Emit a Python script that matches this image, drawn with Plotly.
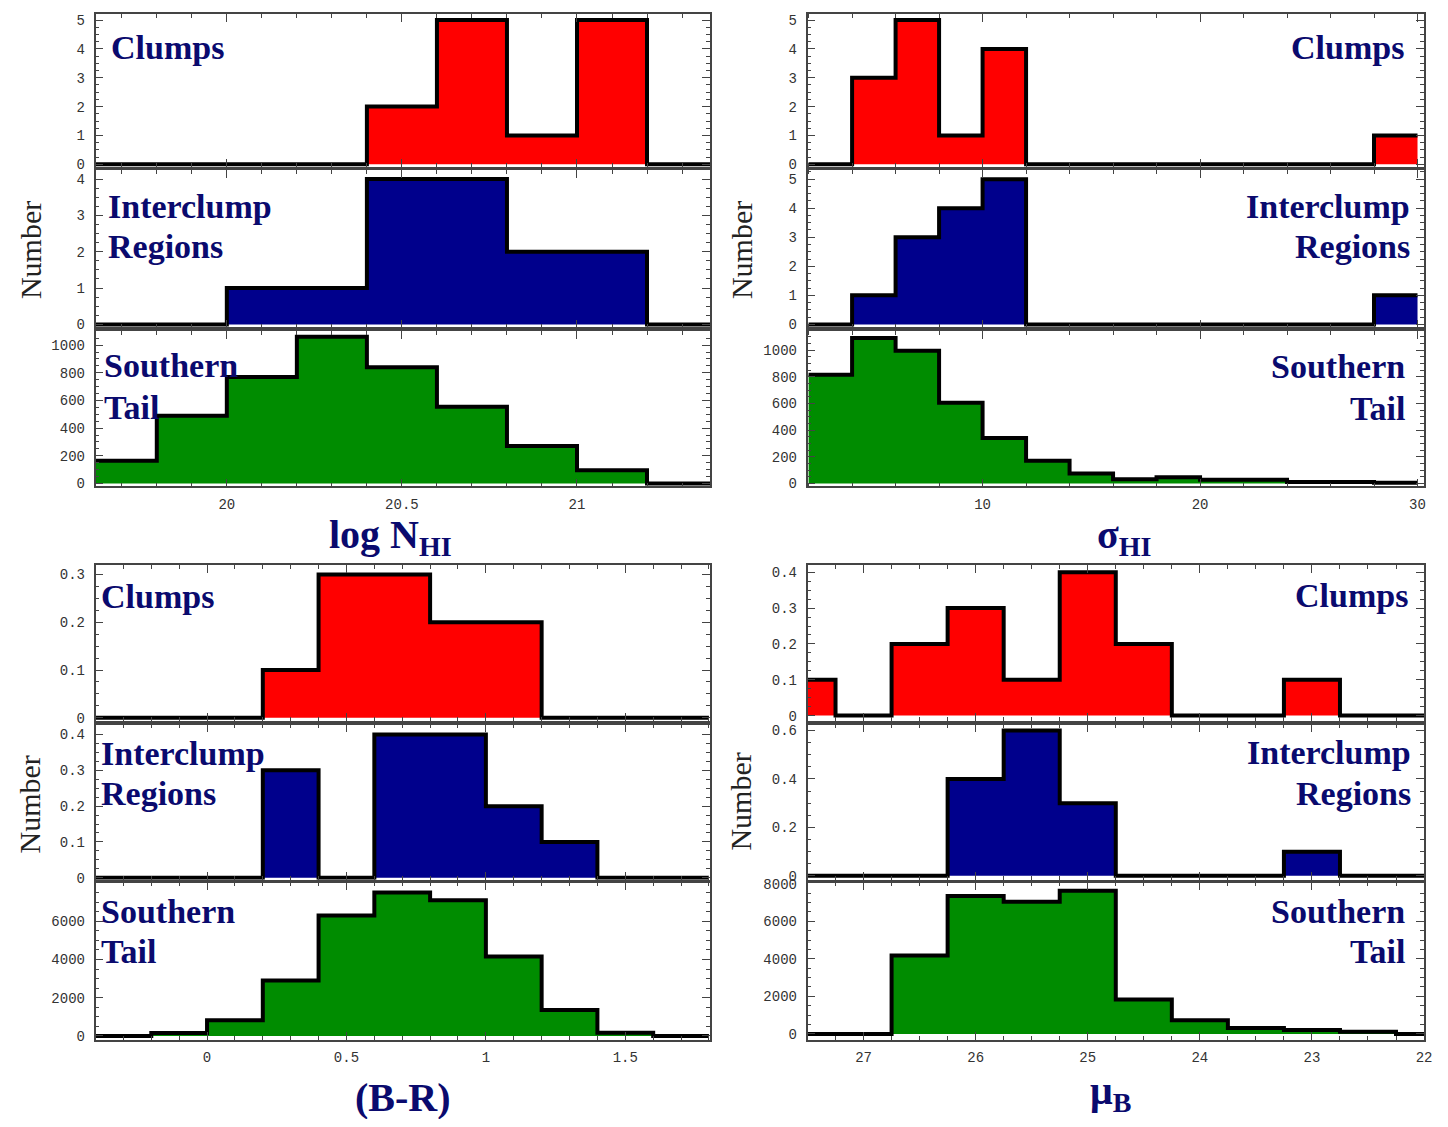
import plotly.graph_objects as go

# ---------------- data ----------------
# Panel A: log N_HI  (bin edges, counts)
A_edges = [19.6, 19.8, 20.0, 20.2, 20.4, 20.6, 20.8, 21.0, 21.2, 21.4]
A_clumps = [0, 0, 0, 0, 2, 5, 1, 5, 0]
A_inter = [0, 0, 1, 1, 4, 4, 2, 2, 0]
A_south = [165, 490, 770, 1060, 840, 555, 270, 95, 0]

# Panel B: sigma_HI
B_edges = [2, 4, 6, 8, 10, 12, 14, 16, 18, 20, 22, 24, 26, 28, 30]
B_clumps = [0, 3, 5, 1, 4, 0, 0, 0, 0, 0, 0, 0, 0, 1]
B_inter = [0, 1, 3, 4, 5, 0, 0, 0, 0, 0, 0, 0, 0, 1]
B_south = [815, 1090, 995, 605, 340, 170, 75, 32, 47, 28, 28, 11, 11, 5]

# Panel C: (B-R)
C_edges = [-0.4, -0.2, 0.0, 0.2, 0.4, 0.6, 0.8, 1.0, 1.2, 1.4, 1.6, 1.8]
C_clumps = [0, 0, 0, 0.1, 0.3, 0.3, 0.2, 0.2, 0, 0, 0]
C_inter = [0, 0, 0, 0.3, 0, 0.4, 0.4, 0.2, 0.1, 0, 0]
C_south = [0, 150, 820, 2900, 6300, 7500, 7100, 4150, 1360, 170, 0]

# Panel D: mu_B (reversed axis)
D_edges = [27.75, 27.25, 26.75, 26.25, 25.75, 25.25, 24.75, 24.25, 23.75, 23.25, 22.75, 22.25, 21.75]
D_clumps = [0.1, 0, 0.2, 0.3, 0.1, 0.4, 0.2, 0, 0, 0.1, 0, 0]
D_inter = [0, 0, 0, 0.4, 0.6, 0.3, 0, 0, 0, 0.1, 0, 0]
D_south = [0, 0, 4170, 7340, 7040, 7620, 1830, 730, 310, 210, 120, 0]

row_labels = [["Clumps"], ["Interclump", "Regions"], ["Southern", "Tail"]]
x_titles = ["log N<sub>HI</sub>", "σ<sub>HI</sub>", "(B-R)", "μ<sub>B</sub>"]
y_title = "Number"

# ---------------- style / layout ----------------
PAGE_W, PAGE_H = 1448, 1127
OFF = 8  # default page margin
W, H = PAGE_W - 2 * OFF, PAGE_H - 2 * OFF
RED, BLUE, GREEN = "#ff0000", "#00008c", "#008c00"
NAVY = "#0a0a6e"
FRAME = "#444444"


def px_x(p):
    return (p - OFF) / W


def px_y(p):
    return 1 - (p - OFF) / H


left_dom = [px_x(96), px_x(714)]
right_dom = [px_x(812), px_x(1432)]
rows_top = [(8, 163), (166, 325), (329, 486)]
rows_bot = [(566, 723), (727, 884), (887, 1046)]

panels = [
    dict(edges=A_edges, data=[A_clumps, A_inter, A_south], xdom=left_dom, rows=rows_top,
         xrange=[19.625, 21.38], xdtick=0.5, xtick0=20, xminor=0.1,
         yranges=[[-0.1, 5.21], [-0.08, 4.245], [-21, 1100]],
         ytv=[[0, 1, 2, 3, 4, 5], [0, 1, 2, 3, 4], [0, 200, 400, 600, 800, 1000]],
         ymin=[0.25, 0.25, 50]),
    dict(edges=B_edges, data=[B_clumps, B_inter, B_south], xdom=right_dom, rows=rows_top,
         xrange=[1.95, 30.3], xdtick=10, xtick0=0, xminor=2,
         yranges=[[-0.1, 5.21], [-0.1, 5.31], [-22, 1141]],
         ytv=[[0, 1, 2, 3, 4, 5], [0, 1, 2, 3, 4, 5], [0, 200, 400, 600, 800, 1000]],
         ymin=[0.25, 0.25, 50]),
    dict(edges=C_edges, data=[C_clumps, C_inter, C_south], xdom=left_dom, rows=rows_bot,
         xrange=[-0.4, 1.804], xdtick=0.5, xtick0=0, xminor=0.1,
         yranges=[[-0.006, 0.319], [-0.0055, 0.4276], [-207, 8018]],
         ytv=[[0, 0.1, 0.2, 0.3], [0, 0.1, 0.2, 0.3, 0.4], [0, 2000, 4000, 6000]],
         ymin=[0.025, 0.025, 500]),
    dict(edges=D_edges, data=[D_clumps, D_inter, D_south], xdom=right_dom, rows=rows_bot,
         xrange=[27.5, 22.0], xdtick=1, xtick0=22, xminor=0.25,
         yranges=[[-0.014, 0.419], [-0.016, 0.624], [-316, 8052]],
         ytv=[[0, 0.1, 0.2, 0.3, 0.4], [0, 0.2, 0.4, 0.6], [0, 2000, 4000, 6000, 8000]],
         ymin=[0.025, 0.05, 500]),
]
fills = [RED, BLUE, GREEN]

fig = go.Figure()
layout = {}
ann = []
tickfont = dict(family="Liberation Mono, Courier New, monospace", size=14, color="#333333")
k = 0
for pi, p in enumerate(panels):
    for ri in range(3):
        k += 1
        xname = "x" if k == 1 else f"x{k}"
        yname = "y" if k == 1 else f"y{k}"
        counts = p["data"][ri]
        xs = list(p["edges"])
        ys = list(counts) + [counts[-1]]
        fig.add_trace(go.Scatter(
            x=xs, y=ys, mode="lines", line=dict(shape="hv", color="black", width=4),
            fill="tozeroy", fillcolor=fills[ri], xaxis=xname, yaxis=yname,
            showlegend=False, hoverinfo="skip"))
        top, bot = p["rows"][ri]
        layout["xaxis" if k == 1 else f"xaxis{k}"] = dict(
            domain=p["xdom"], anchor=yname, range=p["xrange"], dtick=p["xdtick"],
            tick0=p["xtick0"], ticks="inside", ticklen=8, tickwidth=1, tickcolor=FRAME,
            showline=True, linecolor=FRAME, linewidth=1.5, mirror="ticks",
            showgrid=False, zeroline=False, showticklabels=(ri == 2),
            tickfont=tickfont, ticklabelstandoff=4,
            minor=dict(dtick=p["xminor"], ticks="inside", ticklen=4, tickcolor=FRAME, showgrid=False))
        tv = p["ytv"][ri]
        layout["yaxis" if k == 1 else f"yaxis{k}"] = dict(
            domain=[px_y(bot), px_y(top)], anchor=xname, range=p["yranges"][ri],
            tickmode="array", tickvals=tv, ticktext=[f"{v:g}" for v in tv],
            ticks="inside", ticklen=8, tickwidth=1,
            tickcolor=FRAME, showline=True, linecolor=FRAME, linewidth=1.5,
            mirror="ticks", showgrid=False, zeroline=False, tickfont=tickfont,
            ticklabelstandoff=6,
            minor=dict(dtick=p["ymin"][ri], tick0=0, ticks="inside", ticklen=4,
                       tickcolor=FRAME, showgrid=False))

# region labels
lab_font = dict(family="Liberation Serif, Times New Roman, serif", size=34, color=NAVY)
label_pos = {
    0: dict(x=[110, 107, 103], ys=[[42], [203, 243], [364, 406]], anchor="left"),
    1: dict(x=[1414, 1420, 1415], ys=[[42], [203, 243], [365, 407]], anchor="right"),
    2: dict(x=[100, 100, 100], ys=[[597], [756, 797], [916, 957]], anchor="left"),
    3: dict(x=[1418, 1421, 1415], ys=[[596], [755, 797], [916, 957]], anchor="right"),
}
for pi, lp in label_pos.items():
    for ri in range(3):
        for li, txt in enumerate(row_labels[ri]):
            ann.append(dict(text=f"<b>{txt}</b>", x=px_x(lp["x"][ri]), y=px_y(lp["ys"][ri][li]),
                            xref="paper", yref="paper", xanchor=lp["anchor"], yanchor="middle",
                            showarrow=False, font=lab_font))

# x titles
xt_font = dict(family="Liberation Serif, Times New Roman, serif", size=40, color=NAVY)
xt_pos = [(393, 537), (1130, 537), (405, 1104), (1117, 1100)]
for t, (xx, yy) in zip(x_titles, xt_pos):
    ann.append(dict(text=f"<b>{t}</b>", x=px_x(xx), y=px_y(yy), xref="paper", yref="paper",
                    xanchor="center", yanchor="middle", showarrow=False, font=xt_font))

# y titles
yt_font = dict(family="Liberation Serif, Times New Roman, serif", size=30, color="#222222")
for (xx, yy) in [(30, 247), (745, 247), (30, 808), (745, 805)]:
    ann.append(dict(text=y_title, x=px_x(xx), y=px_y(yy), xref="paper", yref="paper",
                    xanchor="center", yanchor="middle", textangle=-90, showarrow=False,
                    font=yt_font))

fig.update_layout(width=W, height=H, margin=dict(l=0, r=0, t=0, b=0),
                  paper_bgcolor="white", plot_bgcolor="white", annotations=ann, **layout)

fig.write_html("out.html", config={"displayModeBar": False})
